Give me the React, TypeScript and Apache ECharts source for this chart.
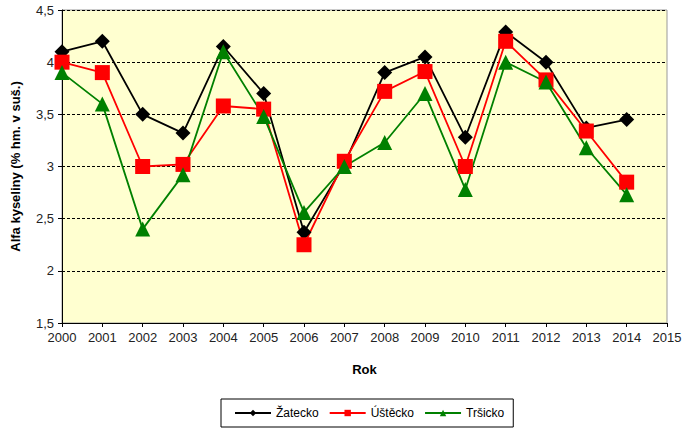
import React, { useEffect, useRef } from "react";
import * as echarts from "echarts";

const years = [2000, 2001, 2002, 2003, 2004, 2005, 2006, 2007, 2008, 2009, 2010, 2011, 2012, 2013, 2014];
const zatecko = [4.1, 4.2, 3.5, 3.32, 4.15, 3.7, 2.37, 3.02, 3.9, 4.05, 3.28, 4.29, 4.0, 3.37, 3.45];
const ustecko = [4.0, 3.9, 3.0, 3.02, 3.58, 3.55, 2.25, 3.05, 3.72, 3.91, 3.0, 4.2, 3.83, 3.34, 2.85];
const trsicko = [3.9, 3.6, 2.4, 2.92, 4.1, 3.48, 2.56, 3.0, 3.23, 3.7, 2.78, 4.0, 3.81, 3.18, 2.73];
const seriesNames = ["Žatecko", "Úštěcko", "Tršicko"];

const FONT = "Liberation Sans, Arial, sans-serif";

export default function App() {
  const ref = useRef<HTMLDivElement>(null);
  useEffect(() => {
    if (!ref.current) return;
    const chart = echarts.init(ref.current, undefined, { renderer: "svg" });
    const mk = (vals: number[]) => years.map((y, i) => [y, vals[i]]);
    chart.setOption({
      animation: false,
      backgroundColor: "#ffffff",
      textStyle: { fontFamily: FONT },
      grid: { left: 62, right: 20, top: 10, bottom: 116, show: true, backgroundColor: "#FFFFD0", borderColor: "#999999", borderWidth: 1 },
      legend: {
        left: 221,
        top: 399,
        padding: [8, 9, 8, 13],
        borderColor: "#000",
        borderWidth: 1,
        itemGap: 10,
        itemWidth: 36,
        itemHeight: 8,
        textStyle: { fontSize: 12, color: "#000", fontFamily: FONT },
        data: seriesNames,
      },
      xAxis: {
        type: "value",
        min: 2000,
        max: 2015,
        interval: 1,
        name: "Rok",
        nameLocation: "middle",
        nameGap: 40,
        nameTextStyle: { fontWeight: "bold", fontSize: 13, color: "#000", fontFamily: FONT },
        axisLine: { show: true, lineStyle: { color: "#000", width: 1 } },
        axisTick: { show: true, length: 4, lineStyle: { color: "#000" } },
        axisLabel: { fontSize: 13, color: "#222", margin: 8, formatter: (v: number) => String(v) },
        splitLine: { show: false },
      },
      yAxis: {
        type: "value",
        min: 1.5,
        max: 4.5,
        interval: 0.5,
        name: "Alfa kyseliny (% hm. v suš.)",
        nameLocation: "middle",
        nameGap: 40,
        nameTextStyle: { fontWeight: "bold", fontSize: 13, color: "#000", fontFamily: FONT },
        axisLine: { show: true, lineStyle: { color: "#000", width: 1 } },
        axisTick: { show: true, length: 4, lineStyle: { color: "#000" } },
        axisLabel: { fontSize: 13, color: "#222", margin: 8, formatter: (v: number) => String(v).replace(".", ",") },
        splitLine: { show: true, lineStyle: { color: "#000", type: [3, 2], width: 1 } },
      },
      series: [
        {
          name: seriesNames[0],
          type: "line",
          data: mk(zatecko),
          symbol: "diamond",
          symbolSize: 15,
          itemStyle: { color: "#000000" },
          lineStyle: { color: "#000000", width: 1.8 },
        },
        {
          name: seriesNames[1],
          type: "line",
          data: mk(ustecko),
          symbol: "rect",
          symbolSize: 15,
          itemStyle: { color: "#FF0000" },
          lineStyle: { color: "#FF0000", width: 1.8 },
        },
        {
          name: seriesNames[2],
          type: "line",
          data: mk(trsicko),
          symbol: "triangle",
          symbolSize: 15,
          itemStyle: { color: "#008000" },
          lineStyle: { color: "#008000", width: 1.8 },
        },
      ],
    });
    return () => chart.dispose();
  }, []);
  return <div ref={ref} style={{ position: "fixed", left: 0, top: 0, width: 687, height: 439 }} />;
}
